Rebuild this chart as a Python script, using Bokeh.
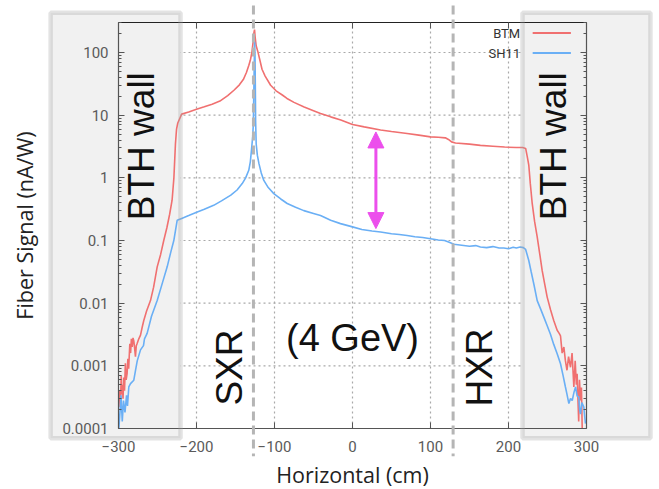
import numpy as np
from bokeh.plotting import figure
from bokeh.models import (LogAxis, LinearAxis, FixedTicker, CustomJSTickFormatter,
                          BoxAnnotation, Label, Arrow, NormalHead, Grid)
from bokeh.embed import file_html
from bokeh.resources import INLINE

# ---------------- data ----------------
btm_x = [-299.5, -298.5, -297.4, -296.5, -296.0, -295.2, -294.2, -293.3, -292.3, -291.2,
         -290.2, -289.0, -288.0, -287.0, -285.5, -284.5, -283.5, -282.5, -281.4, -280.4,
         -279.3, -278.3, -277.2, -276.0, -274.0, -271.8, -269.5, -267.6, -264.0, -259.0,
         -255.0, -250.4, -246.0, -242.0, -238.0, -234.5, -231.3, -229.0, -227.0, -225.6,
         -224.0, -219.0, -210.0, -200.0, -190.0, -180.0, -170.0, -160.0, -152.0, -145.0,
         -140.0, -136.0, -133.0, -131.0, -129.0, -127.5, -126.3, -125.6, -124.8, -123.5,
         -121.5, -119.0, -116.0, -112.0, -105.0, -98.0, -90.0, -84.0, -75.0, -62.0,
         -50.0, -41.0, -28.0, -15.0, 0.0, 15.0, 36.0, 50.0, 70.0, 85.0,
         100.0, 110.0, 119.0, 123.0, 127.0, 132.0, 150.0, 164.0, 180.0, 195.0,
         210.0, 218.0, 222.0, 224.0, 226.0, 228.0, 230.4, 233.5, 236.8, 240.0,
         243.2, 246.5, 249.6, 254.0, 258.0, 262.4, 265.0, 266.7, 268.8, 271.0,
         273.0, 275.0, 277.0, 279.5, 281.5, 283.8, 285.5, 287.0, 288.0, 289.0,
         290.0, 291.0, 292.3, 293.5, 294.5]
btm_y = [0.00022, 0.0004, 0.00028, 0.0007, 0.00035, 0.0005, 0.0003, 0.00065, 0.0004, 0.0011,
         0.0006, 0.00075, 0.0013, 0.0009, 0.00225, 0.0016, 0.0027, 0.002, 0.0028, 0.0025,
         0.0019, 0.0014, 0.0021, 0.0023, 0.0027, 0.0031, 0.0042, 0.0053, 0.0075, 0.011,
         0.018, 0.038, 0.06, 0.1, 0.16, 0.26, 0.44, 1.0, 3.5, 6.0,
         7.5, 10.4, 11.2, 12.4, 13.6, 15.0, 16.8, 20.5, 25.0, 30.5,
         37.0, 48.0, 62.0, 75.0, 100.0, 145.0, 210.0, 232.0, 175.0, 128.0,
         105.0, 78.0, 54.0, 42.0, 30.0, 24.5, 21.0, 18.5, 16.0, 13.5,
         11.8, 10.6, 9.4, 8.4, 7.1, 6.5, 5.8, 5.5, 5.1, 4.8,
         4.5, 4.45, 4.35, 4.1, 3.75, 3.6, 3.45, 3.3, 3.2, 3.1,
         3.05, 3.05, 2.95, 2.2, 1.6, 0.8, 0.39, 0.2, 0.114, 0.062,
         0.033, 0.02, 0.0125, 0.0078, 0.0053, 0.0037, 0.0033, 0.003, 0.0016, 0.002,
         0.0012, 0.00085, 0.0014, 0.00095, 0.0016, 0.00046, 0.0012, 0.0005, 0.00075, 0.0003,
         0.00013, 0.0006, 0.00028, 0.00045, 0.0001]

sh11_x = [-299.6, -298.0, -296.8, -295.2, -293.6, -291.7, -289.7, -288.5, -286.8, -284.6,
          -280.4, -278.2, -276.0, -271.8, -268.0, -266.7, -263.3, -257.7, -250.4, -244.0,
          -237.6, -233.3, -229.1, -224.8, -219.0, -210.0, -199.0, -190.0, -178.0, -168.0,
          -156.0, -148.0, -141.4, -137.0, -133.0, -131.0, -129.5, -128.0, -127.2, -126.6,
          -126.0, -125.5, -125.0, -124.6, -124.2, -123.5, -122.0, -120.0, -117.0, -113.7,
          -108.0, -100.9, -92.0, -83.7, -73.0, -62.4, -50.0, -41.0, -28.0, -15.4,
          0.0, 12.0, 25.0, 36.0, 50.0, 60.0, 70.0, 80.0, 90.0, 100.0,
          110.0, 118.0, 124.0, 130.0, 140.0, 150.0, 158.0, 164.0, 172.0, 180.0,
          188.0, 194.0, 200.0, 206.0, 210.0, 215.0, 219.0, 222.0, 226.0, 229.0,
          232.4, 236.8, 241.0, 245.3, 249.5, 253.8, 258.0, 262.4, 266.7, 270.0,
          273.0, 275.0, 277.4, 279.5, 281.7, 284.0, 286.0, 288.0, 290.0, 291.2,
          292.3, 294.0, 296.6, 297.8, 298.7]
sh11_y = [0.0001, 0.00019, 0.00034, 0.00013, 0.00028, 0.00018, 0.00034, 0.00023, 0.00046, 0.00052,
          0.00059, 0.00085, 0.0012, 0.0018, 0.0021, 0.0027, 0.0033, 0.0062, 0.011, 0.0205,
          0.038, 0.063, 0.1, 0.21, 0.225, 0.25, 0.285, 0.315, 0.364, 0.43,
          0.53, 0.64, 0.81, 1.0, 1.32, 1.8, 2.8, 4.5, 7.0, 20.0,
          60.0, 150.0, 90.0, 30.0, 8.0, 3.5, 2.3, 1.7, 1.2, 0.91,
          0.7, 0.56, 0.46, 0.39, 0.34, 0.30, 0.27, 0.25, 0.21, 0.186,
          0.165, 0.15, 0.142, 0.137, 0.128, 0.125, 0.12, 0.115, 0.112, 0.107,
          0.102, 0.1, 0.094, 0.087, 0.084, 0.081, 0.083, 0.079, 0.077, 0.08,
          0.076, 0.076, 0.074, 0.078, 0.076, 0.079, 0.077, 0.072, 0.048, 0.032,
          0.0204, 0.011, 0.0082, 0.006, 0.0044, 0.0032, 0.0022, 0.00156, 0.00108, 0.0007,
          0.00046, 0.00035, 0.00025, 0.0003, 0.00028, 0.00038, 0.00046, 0.00033, 0.00032, 0.0002,
          0.00017, 0.00026, 0.00022, 0.00015, 0.00012]

x_ticks = [-300, -200, -100, 0, 100, 200, 300]
y_ticks = [0.0001, 0.001, 0.01, 0.1, 1, 10, 100]
y_minor = [m * t for t in y_ticks for m in range(2, 10) if m * t <= 300]
x_grid = [-200, -100, 0, 100, 200]
y_grid = [0.001, 0.01, 0.1, 1, 10, 100]

X_LIM = (-300, 300)               # plotted axis extents
Y_LIM = (1e-4, 301)
beamline_x = [-127, 129]          # SXR / HXR dashed separators
wall_left = [-387, -220.5]        # BTH wall extents (cm)
wall_right = [218, 382]
gap_x = 30                        # magenta double arrow
gap_low, gap_high = 0.155, 5.4

RED = "#f07070"
BLUE = "#6aaff5"
MAG = "#ec4fec"

# The frame covers the whole canvas so that the wall boxes and the dashed
# separators can reach outside the axes; axes sit at fixed locations.
p = figure(width=659, height=489, y_axis_type="log",
           x_range=(-451.3, 393.6), y_range=(1.064e-5, 676),
           x_axis_location=None, y_axis_location=None,
           output_backend="svg", toolbar_location=None,
           min_border=0, min_border_left=0, min_border_right=0,
           min_border_top=0, min_border_bottom=0,
           background_fill_color="white", border_fill_color="white")
p.outline_line_color = None
# drop the automatic full-canvas grids
p.center = [r for r in p.center if not isinstance(r, Grid)]

# dotted grid, limited to the axes box (drawn at the lowest level)
gv = p.segment(x0=x_grid, y0=[Y_LIM[0]] * len(x_grid), x1=x_grid, y1=[Y_LIM[1]] * len(x_grid),
               line_color="#a9a9a9", line_dash="2 3", line_width=1.2)
gh = p.segment(x0=[X_LIM[0]] * len(y_grid), y0=y_grid, x1=[X_LIM[1]] * len(y_grid), y1=y_grid,
               line_color="#a9a9a9", line_dash="2 3", line_width=1.2)
gv.level = "image"
gh.level = "image"

tick_font = "Roboto"
def style_axis(ax, labels=True):
    ax.axis_line_color = "#555555"
    ax.axis_line_width = 1.2
    ax.major_tick_in = 6
    ax.major_tick_out = 0
    ax.minor_tick_in = 3
    ax.minor_tick_out = 0
    ax.major_tick_line_color = "#555555"
    ax.minor_tick_line_color = "#555555"
    ax.major_label_text_color = "#5a5a5a"
    ax.major_label_text_font = tick_font
    ax.major_label_text_font_size = "15px"
    if not labels:
        ax.formatter = CustomJSTickFormatter(code="return ''")

label_font = "Open Sans"

# left axis
ly = LogAxis(ticker=FixedTicker(ticks=y_ticks, minor_ticks=y_minor),
             formatter=CustomJSTickFormatter(code="return String(tick)"),
             fixed_location=X_LIM[0], bounds=Y_LIM)
style_axis(ly)
ly.major_label_standoff = 10
ly.axis_label = "Fiber Signal (nA/W)"
ly.axis_label_text_font = label_font
ly.axis_label_text_font_style = "normal"
ly.axis_label_text_font_size = "21.5px"
ly.axis_label_text_color = "#222222"
ly.axis_label_standoff = 20
p.add_layout(ly, "left")

# bottom axis
bx = LinearAxis(ticker=FixedTicker(ticks=x_ticks, minor_ticks=[]),
                fixed_location=Y_LIM[0], bounds=X_LIM)
style_axis(bx)
bx.major_label_standoff = 12
bx.axis_label = "Horizontal (cm)"
bx.axis_label_text_font = label_font
bx.axis_label_text_font_style = "normal"
bx.axis_label_text_font_size = "21.5px"
bx.axis_label_text_color = "#222222"
bx.axis_label_standoff = 5
p.add_layout(bx, "below")

# right and top axes (ticks only)
ry = LogAxis(ticker=FixedTicker(ticks=y_ticks, minor_ticks=y_minor),
             fixed_location=X_LIM[1], bounds=Y_LIM)
style_axis(ry, labels=False)
p.add_layout(ry, "right")
tx = LinearAxis(ticker=FixedTicker(ticks=x_ticks, minor_ticks=[]),
                fixed_location=Y_LIM[1], bounds=X_LIM)
style_axis(tx, labels=False)
tx.axis_line_color = "#222222"
p.add_layout(tx, "above")

# BTH wall boxes: fill below curves, outline above
for lo, hi in (wall_left, wall_right):
    p.add_layout(BoxAnnotation(left=lo, right=hi, bottom=7e-5, top=430,
                               fill_color="#f1f1f1", fill_alpha=1.0,
                               line_color=None, level="underlay"))

# curves
p.line(btm_x, btm_y, line_color=RED, line_width=1.6)
p.line(sh11_x, sh11_y, line_color=BLUE, line_width=1.6)

for lo, hi in (wall_left, wall_right):
    p.add_layout(BoxAnnotation(left=lo, right=hi, bottom=7e-5, top=430,
                               fill_color="#f1f1f1", fill_alpha=0.0,
                               line_color="#a3a3a3", line_width=4.5,
                               level="annotation"))

# dashed beamline separators
for bxv in beamline_x:
    p.add_layout(Arrow(x_start=bxv, y_start=560, x_end=bxv, y_end=3.6e-5, end=None,
                       line_color="#b5b5b5", line_width=3, line_dash="9 5"))

# magenta double arrow
p.add_layout(Arrow(x_start=gap_x, y_start=gap_low, x_end=gap_x, y_end=gap_high,
                   start=NormalHead(size=16, fill_color=MAG, line_color=MAG),
                   end=NormalHead(size=16, fill_color=MAG, line_color=MAG),
                   line_color=MAG, line_width=3))

# large annotations
big_font = "Liberation Sans"
for xx, yy, txt, ang, fs in [(-271, 3.2, "BTH wall", 90, "37px"), (258, 3.2, "BTH wall", 90, "37px"),
                             (-158, 0.00094, "SXR", 90, "37px"), (163, 0.00094, "HXR", 90, "37px"),
                             (0, 0.0028, "(4 GeV)", 0, "38px")]:
    p.add_layout(Label(x=xx, y=yy, text=txt, angle=ang, angle_units="deg",
                       text_align="center", text_baseline="middle",
                       text_font=big_font, text_font_size=fs,
                       text_color="#111111"))

# legend (label left of sample line)
for lab, yy, col in [("BTM", 204, RED), ("SH11", 98, BLUE)]:
    p.add_layout(Label(x=215, y=yy, text=lab, text_align="right", text_baseline="middle",
                       text_font=tick_font, text_font_size="13px", text_color="#333333"))
    p.add_layout(Arrow(x_start=231, y_start=yy, x_end=280, y_end=yy, end=None,
                       line_color=col, line_width=2))

open("out.html", "w").write(file_html(p, INLINE))
